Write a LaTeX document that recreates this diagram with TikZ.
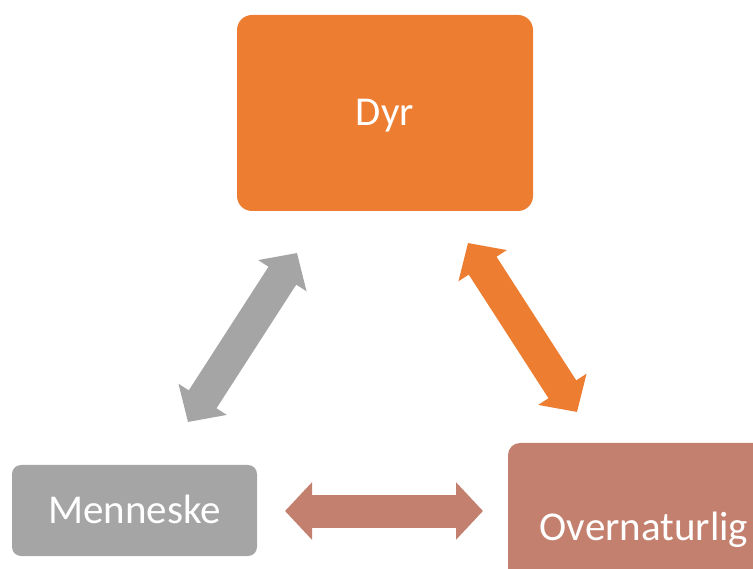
\documentclass[tikz,border=0pt]{standalone}
\usepackage{fontspec}
\setmainfont{Carlito}
\usetikzlibrary{arrows.meta}
\definecolor{dyrc}{HTML}{ED7D31}
\definecolor{menc}{HTML}{A5A5A5}
\definecolor{ovc}{HTML}{C4806E}
\tikzset{
  boxst/.style={rectangle, inner sep=0pt, text=white, font=\fontsize{41}{41}\selectfont,
    text height=26pt, text depth=0pt},
  dbl/.style={line width=33pt, {Triangle[width=56pt,length=27pt]}-{Triangle[width=56pt,length=27pt]}}
}
\begin{document}
\begin{tikzpicture}[x=1pt,y=-1pt]
\useasboundingbox (0,0) rectangle (753,569);
\clip (0,0) rectangle (753,569);
\node[boxst, fill=dyrc, rounded corners=15pt, minimum width=296pt, minimum height=196pt] (dyr) at (385,113) {Dyr};
\node[boxst, fill=menc, rounded corners=9pt, minimum width=245pt, minimum height=91pt] (men) at (134.5,510.5) {Menneske};
\node[boxst, fill=ovc, rounded corners=12pt, minimum width=272pt, minimum height=168pt] (ov) at (644,527) {Overnaturlig};
\coordinate (g1) at (297,253);
\coordinate (g2) at (188,422);
\coordinate (o1) at (468,243);
\coordinate (o2) at (577,412);
\coordinate (b1) at (285,511);
\coordinate (b2) at (483,511);
\draw[dbl, menc] (g2) -- (g1);
\draw[dbl, dyrc] (o1) -- (o2);
\draw[dbl, ovc] (b1) -- (b2);
\end{tikzpicture}
\end{document}
